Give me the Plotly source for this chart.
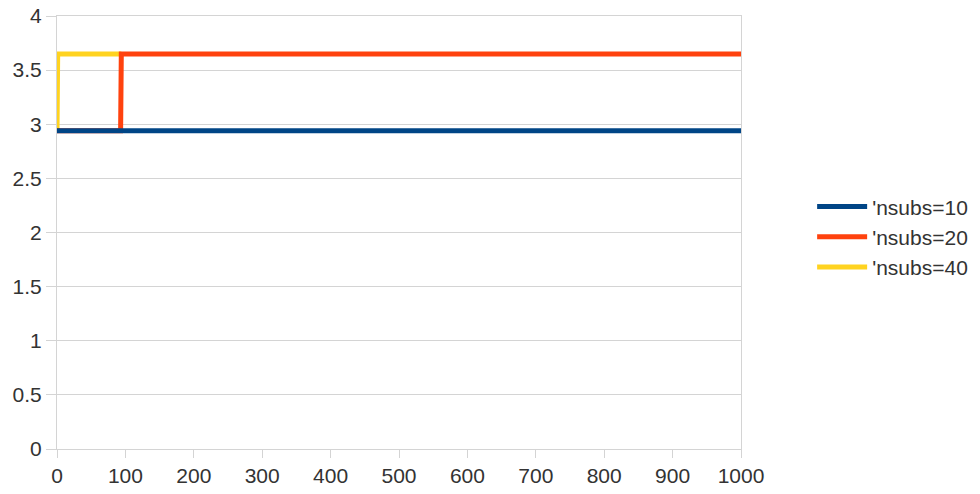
import plotly.graph_objects as go

# Step series: iteration vs. value for each subdivision count
blue_x = [0, 1000]
blue_y = [2.94, 2.94]

red_x = [0, 93, 94, 1000]
red_y = [2.94, 2.94, 3.65, 3.65]

yellow_x = [0, 1, 94]
yellow_y = [2.94, 3.65, 3.65]

names = ["'nsubs=10", "'nsubs=20", "'nsubs=40"]
colors = ["#004586", "#ff420e", "#ffd320"]

fig = go.Figure()
# draw yellow first, blue last so blue sits on top
series = [(yellow_x, yellow_y, names[2], colors[2], 3),
          (red_x, red_y, names[1], colors[1], 2),
          (blue_x, blue_y, names[0], colors[0], 1)]
for xs, ys, nm, col, rank in series:
    fig.add_trace(go.Scatter(x=xs, y=ys, mode="lines", name=nm,
                             line=dict(color=col, width=5),
                             legendrank=rank))

grid = "#d4d4d4"
fig.update_layout(
    width=980, height=494,
    margin=dict(l=57, r=239, t=16, b=45, autoexpand=False),
    paper_bgcolor="white", plot_bgcolor="white",
    font=dict(family="Liberation Sans, Arial, sans-serif", size=21, color="#333333"),
    showlegend=True,
    legend=dict(x=1.104, y=0.49, xanchor="left", yanchor="middle",
                font=dict(size=21, color="#333333"), itemwidth=50,
                tracegroupgap=0, bgcolor="rgba(0,0,0,0)"),
    xaxis=dict(range=[0, 1000], tickmode="linear", tick0=0, dtick=100,
               showgrid=False, zeroline=False, automargin=False,
               showline=True, linecolor=grid, linewidth=1, mirror=True,
               ticks="outside", ticklen=8, tickcolor=grid),
    yaxis=dict(range=[0, 4], tickmode="linear", tick0=0, dtick=0.5,
               showgrid=True, gridcolor=grid, gridwidth=1, zeroline=False,
               automargin=False,
               showline=True, linecolor=grid, linewidth=1, mirror=True,
               ticks="outside", ticklen=10, tickcolor=grid),
)

fig.write_html("out.html")
